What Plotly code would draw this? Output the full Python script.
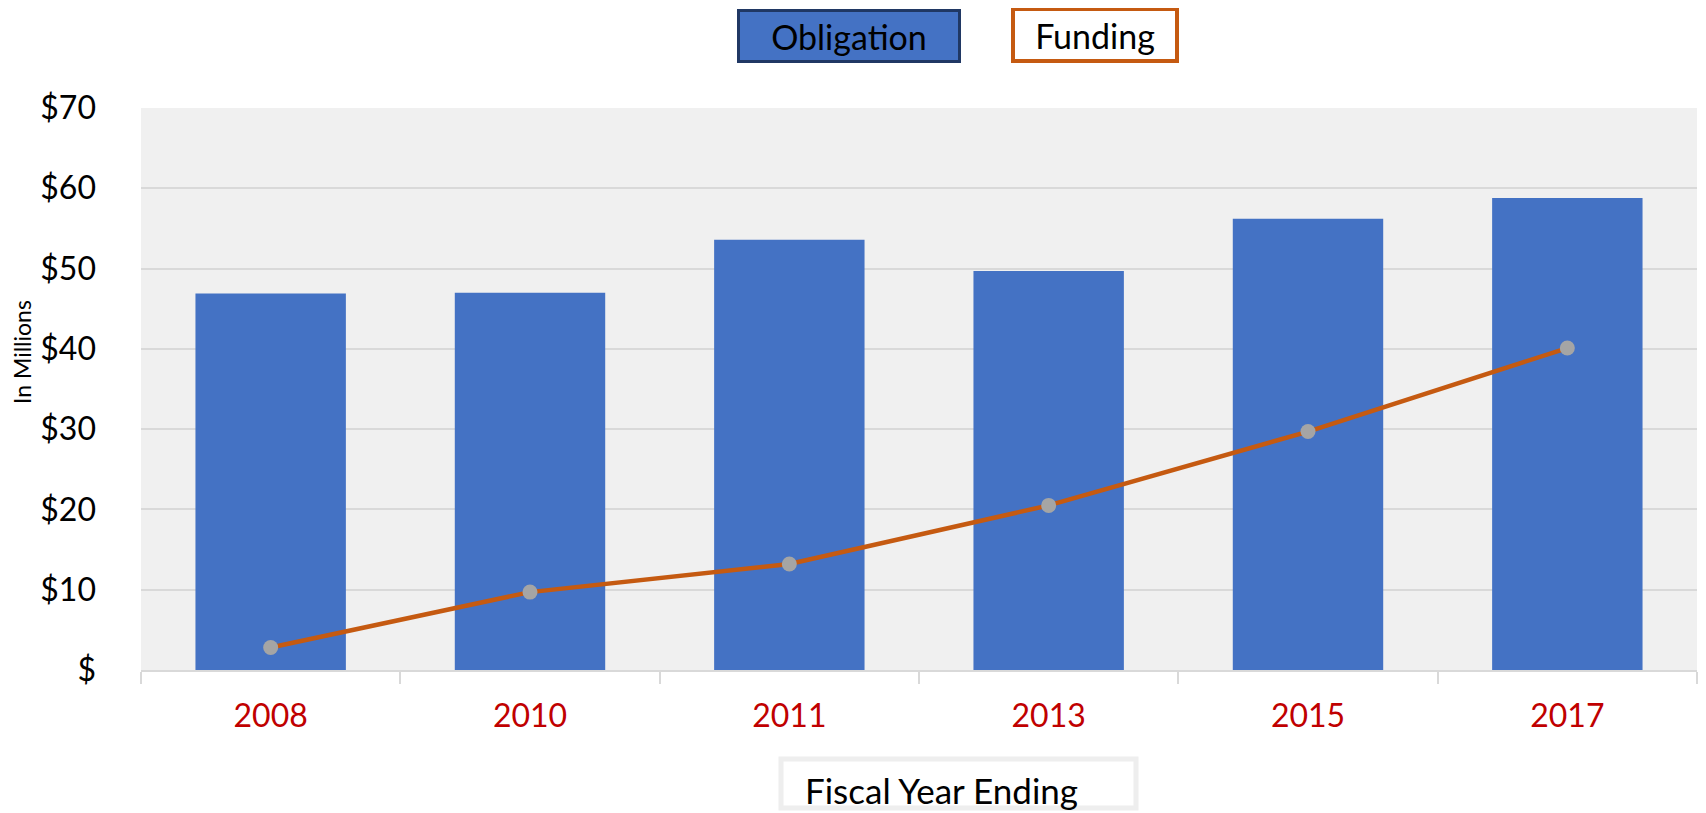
import plotly.graph_objects as go

years = ["2008", "2010", "2011", "2013", "2015", "2017"]
obligation = [46.9, 47.0, 53.6, 49.7, 56.2, 58.8]
funding = [2.8, 9.7, 13.2, 20.5, 29.7, 40.1]
y_tickvals = [0, 10, 20, 30, 40, 50, 60, 70]
y_ticktext = ["$", "$10", "$20", "$30", "$40", "$50", "$60", "$70"]

OFF = 8  # default body margin of the html page
W, H = 1706 - 2 * OFF, 813 - OFF
ML, MR, MT = 141 - OFF, 1, 108 - OFF
MB = H - (670 - OFF)
PW, PH = W - ML - MR, H - MT - MB

def px_x(px):  # page pixel -> paper fraction
    return (px - OFF - ML) / PW

def px_y(py):
    return (H - MB - (py - OFF)) / PH

FONT = "Lato"

fig = go.Figure()
fig.add_trace(go.Bar(
    x=years, y=obligation, name="Obligation",
    marker=dict(color="#4472C4", line=dict(width=0)),
))
fig.add_trace(go.Scatter(
    x=years, y=funding, name="Funding", mode="lines+markers",
    line=dict(color="#C55A11", width=4.5),
    marker=dict(color="#A5A5A5", size=15, line=dict(width=0)),
))

fig.update_layout(
    width=W, height=H,
    margin=dict(l=ML, r=MR, t=MT, b=MB),
    paper_bgcolor="white",
    plot_bgcolor="#F0F0F0",
    showlegend=False,
    bargap=0.42,
    font=dict(family=FONT, color="black"),
    xaxis=dict(
        type="category",
        showgrid=False,
        showline=True, linecolor="#D9D9D9", linewidth=2,
        ticks="outside", tickson="boundaries", ticklen=12, tickcolor="#D9D9D9", tickwidth=1.5,
        tickfont=dict(family=FONT, size=32, color="#C00000"),
        ticklabelstandoff=17,
    ),
    yaxis=dict(
        range=[0, 70],
        tickvals=y_tickvals, ticktext=y_ticktext,
        showgrid=True, gridcolor="#D9D9D9", gridwidth=2,
        zeroline=False, showline=False,
        tickfont=dict(family=FONT, size=32, color="black"),
        ticklabelstandoff=44,
    ),
    shapes=[
        dict(type="rect", xref="paper", yref="paper",
             x0=px_x(781), x1=px_x(1136), y0=px_y(808), y1=px_y(759),
             line=dict(color="#EEEEEE", width=5), fillcolor="white", layer="above"),
    ],
    annotations=[
        dict(text="Obligation", xref="paper", yref="paper",
             x=px_x(849), y=px_y(36), xanchor="center", yanchor="middle",
             showarrow=False, font=dict(family=FONT, size=34, color="black"),
             bgcolor="#4472C4", bordercolor="#203864", borderwidth=3,
             width=216, height=46),
        dict(text="Funding", xref="paper", yref="paper",
             x=px_x(1095), y=px_y(35), xanchor="center", yanchor="middle",
             showarrow=False, font=dict(family=FONT, size=34, color="black"),
             bgcolor="white", bordercolor="#C55A11", borderwidth=4,
             width=158, height=46),
        dict(text="Fiscal Year Ending", xref="paper", yref="paper",
             x=px_x(803), y=px_y(767), xanchor="left", yanchor="top",
             showarrow=False, font=dict(family=FONT, size=35, color="black")),
        dict(text="In Millions", xref="paper", yref="paper",
             x=px_x(22), y=px_y(352), xanchor="center", yanchor="middle",
             textangle=-90, showarrow=False,
             font=dict(family=FONT, size=23, color="black")),
    ],
)

fig.write_html("out.html")
